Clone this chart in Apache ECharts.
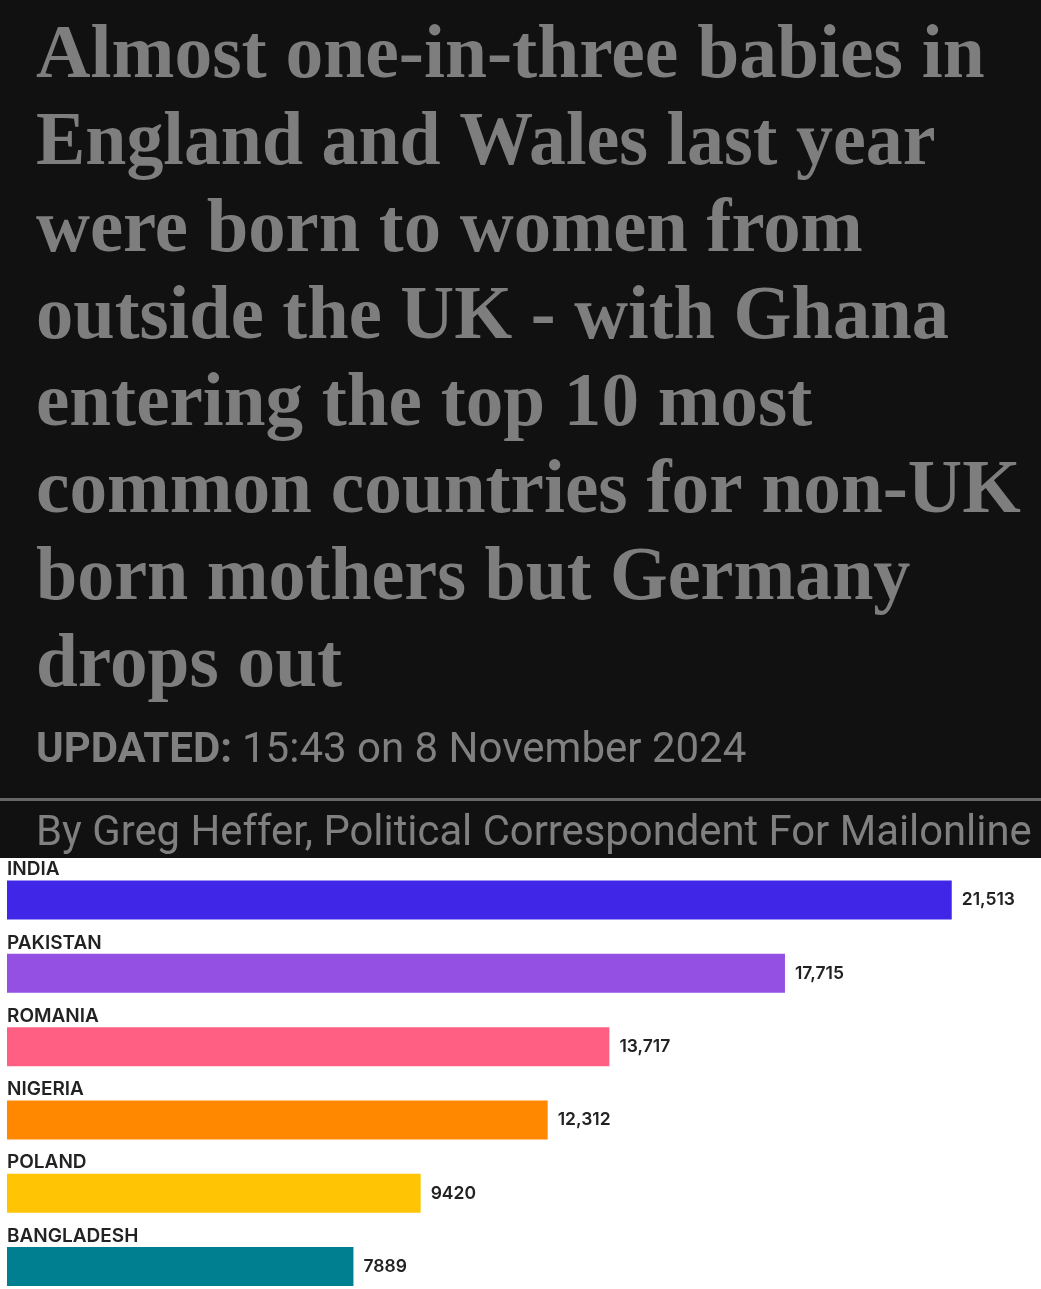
<!DOCTYPE html>
<html>
<head>
<meta charset="utf-8">
<title>Babies born to non-UK mothers</title>
<style>
html, body { margin: 0; padding: 0; background: #fff; }
#chart { width: 1041px; height: 1289px; }
</style>
<script src="https://cdn.jsdelivr.net/npm/echarts@6/dist/echarts.min.js"></script>
</head>
<body>
<div id="chart"></div>
<script>
var headlineLines = [
	'Almost one-in-three babies in',
	'England and Wales last year',
	'were born to women from',
	'outside the UK - with Ghana',
	'entering the top 10 most',
	'common countries for non-UK',
	'born mothers but Germany',
	'drops out'
];
// the original serif is a bit narrower than Liberation, squeeze each line to fit
var headlineFit = [1, 0.979, 0.989, 0.987, 0.995, 0.997, 0.981, 0.997];
var updatedLabel = 'UPDATED:';
var updatedText = '15:43 on 8 November 2024';
var byline = 'By Greg Heffer, Political Correspondent For Mailonline';

var countries = ['INDIA', 'PAKISTAN', 'ROMANIA', 'NIGERIA', 'POLAND', 'BANGLADESH'];
var births = [21513, 17715, 13717, 12312, 9420, 7889];
var valueLabels = ['21,513', '17,715', '13,717', '12,312', '9420', '7889'];
var barColors = ['#4026E6', '#9350E3', '#FF5F82', '#FF8800', '#FFC505', '#007F90'];

var chart = echarts.init(document.getElementById('chart'), null, {renderer: 'canvas'});

var graphics = [
	{type: 'rect', z: -1, shape: {x: 0, y: 0, width: 1041, height: 858}, style: {fill: '#111111'}},
	{type: 'rect', shape: {x: 0, y: 798, width: 1041, height: 3}, style: {fill: '#666666'}},
	{type: 'text', x: 36, y: 751, style: {text: updatedLabel, fill: '#808080', font: 'bold 42px Roboto', textVerticalAlign: 'middle'}},
	{type: 'text', x: 242, y: 751, style: {text: updatedText, fill: '#808080', font: '42px Roboto', textVerticalAlign: 'middle'}},
	{type: 'text', x: 36, y: 835, style: {text: byline, fill: '#808080', font: '41.8px Roboto', textVerticalAlign: 'middle'}}
];
headlineLines.forEach(function(line, i) {
	graphics.push({
		type: 'text', x: 36, y: 57 + i * 87, scaleX: headlineFit[i],
		style: {text: line, fill: '#7e7e7e', font: 'bold 75.5px "Liberation Serif"', textVerticalAlign: 'middle'}
	});
});

chart.setOption({
	animation: false,
	backgroundColor: '#ffffff',
	graphic: graphics,
	grid: {left: 7, top: 863.4, width: 1032, height: 439.8, outerBoundsMode: 'none'},
	xAxis: {type: 'value', min: 0, max: 23500, show: false},
	yAxis: {
		type: 'category',
		inverse: true,
		data: countries,
		axisLine: {show: false},
		axisTick: {show: false},
		axisLabel: {
			inside: true,
			margin: 0,
			align: 'left',
			verticalAlign: 'bottom',
			padding: [0, 0, 21, 0],
			color: '#222222',
			fontFamily: 'Inter',
			fontWeight: 600,
			fontSize: 19
		}
	},
	series: [{
		type: 'bar',
		barWidth: 39,
		data: births.map(function(v, i) {
			return {value: v, itemStyle: {color: barColors[i]}};
		}),
		label: {
			show: true,
			position: 'right',
			distance: 10,
			color: '#222222',
			fontFamily: 'Inter',
			fontWeight: 600,
			fontSize: 17.5,
			formatter: function(p) { return valueLabels[p.dataIndex]; }
		}
	}]
});
</script>
</body>
</html>
